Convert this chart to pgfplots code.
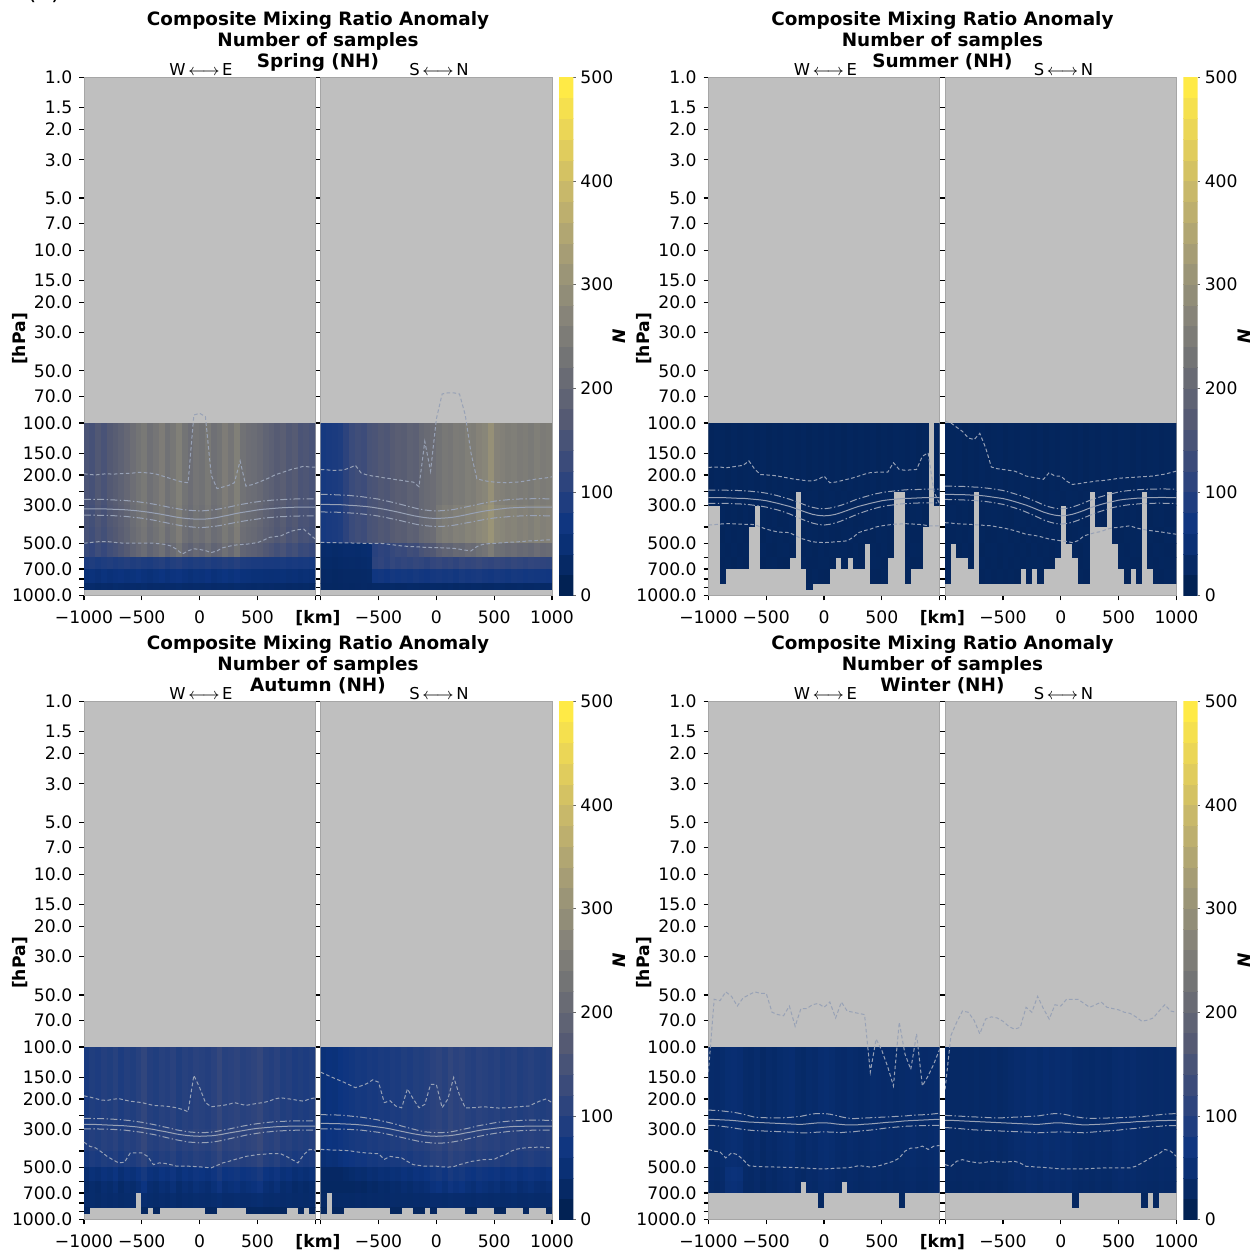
\documentclass[border=0pt]{standalone}
\usepackage{pgfplots}
\pgfplotsset{compat=1.18}
\usepackage{pgfplotstable}
\usepackage{fontspec}
\setmainfont{DejaVu Sans}

% one grid cell: 50 km wide, height given by the mark size
\pgfdeclareplotmark{cell}{%
  \pgfpathrectangle{\pgfpoint{-0.2pt}{0.2pt}}{\pgfpoint{3.29pt}{-\pgfplotmarksize-0.4pt}}%
  \pgfusepathqfill}
% one colour step of the colour bar
\pgfdeclareplotmark{cbcell}{%
  \pgfpathrectangle{\pgfpoint{-3.8pt}{0.15pt}}{\pgfpoint{7.6pt}{-10.67pt}}%
  \pgfusepathqfill}

\definecolor{bgray}{RGB}{191,191,191}
\definecolor{profc}{RGB}{152,162,182}
\newcommand\tickfont{\fontsize{8.6}{10}\selectfont}
\newcommand\titlefont{\bfseries\fontsize{9.2}{10}\selectfont}
\newcommand\subfont{\fontsize{8.2}{10}\selectfont}
\newcommand\labfont{\bfseries\fontsize{8.6}{10}\selectfont}

\pgfplotsset{colormap={civ}{rgb255=(2,34,84) rgb255=(12,52,128) rgb255=(50,70,125)
    rgb255=(85,90,115) rgb255=(112,113,117) rgb255=(138,135,121)
    rgb255=(166,157,117) rgb255=(196,181,108) rgb255=(228,207,91) rgb255=(255,234,70)}}

\pgfplotsset{
  /pgfplots/sect/.style={
    scale only axis, width=115.65pt, height=259.2pt,
    xmin=-1000, xmax=1000, ymin=1, ymax=1000, y dir=reverse,
    axis background/.style={fill=bgray},
    axis line style={draw=black!35, line width=0.3pt},
    tick align=outside, major tick length=2.35pt, minor tick length=2.35pt,
    tick style={black, line width=0.6pt},
    xtick={-1000,-500,0,500,1000},
    ytick={1,1.5,2,3,5,7,10,15,20,30,50,70,100,150,200,300,500,700,1000},
    minor ytick={250,400,600,800,900},
    xtick pos=left, ytick pos=left,
    tick label style={font=\tickfont},
    xticklabel style={yshift=-1.4pt},
    clip marker paths=true, unbounded coords=discard, filter discard warning=false,
    colormap name=civ,
    point meta min=0, point meta max=500,
  },
  /pgfplots/cellrow/.style={scatter, only marks, mark=cell, mark size=#1, point meta=explicit},
  /pgfplots/prof/.style={no marks, line width=0.5pt, color=profc},
  /pgfplots/dashpat/.style={dash pattern=on 1.8pt off 1.2pt},
  /pgfplots/dotdashpat/.style={dash pattern=on 3.5pt off 1.2pt on 0.7pt off 1.2pt},
}

% cell bands (top pressure, band height; empty cells are skipped) and the five profile lines
\newcommand\fields[1]{%
  \addplot[cellrow=34.38pt] table[x=x,y expr=\thisrow{A}*0+100,meta=A]{#1};
  \addplot[cellrow=6.84pt]  table[x=x,y expr=\thisrow{B}*0+250,meta=B]{#1};
  \addplot[cellrow=10.80pt] table[x=x,y expr=\thisrow{C}*0+300,meta=C]{#1};
  \addplot[cellrow=8.37pt]  table[x=x,y expr=\thisrow{D}*0+400,meta=D]{#1};
  \addplot[cellrow=6.84pt]  table[x=x,y expr=\thisrow{E}*0+500,meta=E]{#1};
  \addplot[cellrow=5.78pt]  table[x=x,y expr=\thisrow{F}*0+600,meta=F]{#1};
  \addplot[cellrow=7.29pt]  table[x=x,y expr=\thisrow{G}*0+700,meta=G]{#1};
  \addplot[cellrow=3.17pt]  table[x=x,y expr=\thisrow{H}*0+850,meta=H]{#1};
  \addplot[prof,dashpat]    table[x=x,y=u]{#1};
  \addplot[prof,dotdashpat] table[x=x,y=a]{#1};
  \addplot[prof]            table[x=x,y=s]{#1};
  \addplot[prof,dotdashpat] table[x=x,y=b]{#1};
  \addplot[prof,dashpat]    table[x=x,y=l]{#1};
}

% colour bar steps: top of each step and its value
\pgfplotstableread{
x y m
0.5 20 0
0.5 40 21
0.5 60 42
0.5 80 62
0.5 100 83
0.5 120 104
0.5 140 125
0.5 160 146
0.5 180 167
0.5 200 188
0.5 220 208
0.5 240 229
0.5 260 250
0.5 280 271
0.5 300 292
0.5 320 312
0.5 340 333
0.5 360 354
0.5 380 375
0.5 400 396
0.5 420 417
0.5 440 438
0.5 460 458
0.5 480 479
0.5 500 500
}\CB

\pgfplotstableread{
x A B C D E F G H u a s b l
-1000 151 151 147 143 121 78 46 27 197 277 314 342 497
-950 143 143 138 134 112 84 49 29 199 277 314 342 493
-900 160 160 156 151 130 76 44 25 200 277 314 342 488
-850 147 147 143 138 117 82 52 28 198 277 314 343 486
-800 164 164 160 156 134 86 47 26 197 278 315 343 486
-750 173 173 168 164 143 80 50 30 198 279 316 344 490
-700 186 186 181 177 156 85 53 28 197 280 317 346 494
-650 199 199 194 190 168 90 48 26 196 281 318 347 497
-600 216 216 212 207 186 84 51 29 196 283 320 350 497
-550 229 229 225 220 199 88 55 27 194 285 322 353 496
-500 242 242 238 233 212 82 49 30 193 288 325 356 497
-450 220 220 216 212 190 79 46 26 195 291 328 361 497
-400 233 233 229 225 203 86 51 28 196 295 332 365 497
-350 251 251 246 242 220 92 56 27 200 299 336 371 500
-300 225 225 220 216 194 80 48 29 205 304 341 377 505
-250 238 238 233 229 207 88 53 28 210 309 346 383 515
-200 259 259 255 251 229 94 57 30 215 313 351 389 538
-150 229 229 225 220 199 83 50 27 220 317 355 394 574
-100 216 216 212 207 186 79 46 26 222 320 358 398 550
-50 233 233 229 225 203 85 51 28 90 322 360 401 535
0 225 225 220 216 194 82 49 27 88 323 361 404 540
50 242 242 238 233 212 88 54 29 92 322 360 402 548
100 220 220 216 212 190 80 47 26 200 319 357 399 563
150 229 229 225 220 199 84 51 28 240 316 353 395 550
200 251 251 246 242 220 91 56 29 235 312 347 390 528
250 233 233 229 225 203 85 51 27 230 307 342 384 518
300 259 259 255 251 229 93 57 30 222 302 336 378 510
350 225 225 220 216 194 82 49 28 166 297 331 373 506
400 216 216 212 207 186 80 48 26 232 293 327 368 504
450 212 212 207 203 181 78 46 25 228 289 323 364 498
500 203 203 199 194 173 77 45 27 222 286 319 360 493
550 190 190 186 181 160 75 44 25 215 283 316 356 478
600 181 181 177 173 151 74 43 26 208 281 314 353 460
650 168 168 164 160 138 73 44 24 200 279 312 351 455
700 177 177 173 168 147 76 45 25 195 278 310 349 451
750 160 160 156 151 130 72 42 23 190 277 309 348 435
800 168 168 164 160 138 75 44 24 185 276 308 346 422
850 151 151 147 143 121 71 41 23 182 275 307 346 415
900 156 156 151 147 125 73 43 24 178 275 307 345 412
950 147 147 143 138 117 70 40 22 180 275 307 345 441
1000 nan nan nan nan nan nan nan nan 180 275 307 345 470
}\SpL

\pgfplotstableread{
x A B C D E F G H u a s b l
-1000 70 70 70 70 28 24 20 18 186 259 296 327 492
-950 74 74 74 74 30 25 21 19 187 259 296 328 492
-900 78 78 78 78 27 23 19 18 188 260 297 328 493
-850 82 82 82 82 29 25 20 19 188 261 297 329 494
-800 102 102 102 102 31 26 22 20 187 262 298 330 494
-750 124 124 124 124 32 27 21 19 182 263 300 332 495
-700 133 133 133 133 30 26 22 20 176 265 301 333 496
-650 129 129 129 129 33 28 23 21 195 267 303 336 497
-600 146 146 146 146 35 30 24 20 200 270 305 339 498
-550 150 150 150 150 97 103 62 22 203 273 308 342 499
-500 160 160 160 160 106 109 66 23 205 276 312 346 497
-450 156 156 156 156 102 100 60 21 208 281 316 351 500
-400 168 168 168 168 116 113 68 24 210 286 321 357 505
-350 177 177 177 177 124 105 64 22 213 291 326 363 510
-300 173 173 173 173 120 111 67 23 215 297 332 369 515
-250 186 186 186 186 133 107 65 25 218 303 338 376 518
-200 181 181 181 181 129 115 70 24 220 309 344 383 520
-150 200 200 200 200 146 110 66 23 234 315 349 389 522
-100 208 208 208 208 156 103 63 22 128 319 353 393 525
-50 213 213 213 213 160 112 69 25 190 322 356 396 526
0 226 226 239 239 181 117 72 24 95 323 357 398 527
50 239 239 253 253 194 109 67 23 68 322 356 397 528
100 234 234 248 248 190 114 70 25 67 320 354 395 530
150 248 248 261 261 204 106 65 22 67 317 351 391 532
200 244 244 257 257 200 118 73 24 68 312 346 386 538
250 257 257 270 270 213 111 68 23 90 307 341 380 545
300 253 253 266 266 208 115 71 25 150 302 335 375 550
350 266 266 279 279 221 120 74 24 210 297 330 369 520
400 274 274 288 288 230 113 69 22 215 292 325 364 505
450 301 301 310 310 253 109 66 23 218 288 321 359 500
500 266 266 279 279 221 116 72 25 220 284 318 355 498
550 261 261 274 274 217 112 69 24 221 281 315 352 495
600 253 253 266 266 208 107 65 22 222 279 312 350 492
650 257 257 270 270 213 114 70 23 221 277 310 347 490
700 248 248 261 261 204 110 68 24 220 276 309 346 488
750 253 253 266 266 208 105 64 22 218 275 308 345 485
800 244 244 257 257 200 111 67 23 215 275 307 344 482
850 257 257 270 270 213 108 66 24 212 274 307 344 480
900 248 248 261 261 204 106 64 22 210 274 307 344 478
950 253 253 266 266 208 104 63 23 208 275 307 345 476
1000 nan nan nan nan nan nan nan nan 205 275 307 345 475
}\SpR

\pgfplotstableread{
x A B C D E F G H u a s b l
-1000 10 11 nan nan nan nan nan nan 181 245 271 292 390
-950 12 10 nan nan nan nan nan nan 180 245 271 292 388
-900 11 10 12 9 11 10 12 nan 180 245 271 292 385
-850 9 11 10 12 10 11 nan nan 182 245 271 292 383
-800 12 10 11 10 12 9 nan nan 180 246 272 293 383
-750 10 12 9 11 10 12 nan nan 178 246 273 294 385
-700 11 9 12 10 11 10 nan nan 176 247 273 295 386
-650 13 11 10 nan nan nan nan nan 166 248 275 297 386
-600 10 12 nan nan nan nan nan nan 185 250 277 300 388
-550 12 10 11 9 12 10 nan nan 199 252 279 303 400
-500 9 11 10 12 10 11 nan nan 200 255 282 307 412
-450 11 10 12 10 9 12 nan nan 201 259 287 313 420
-400 10 12 9 11 11 10 nan nan 203 264 292 319 428
-350 12 11 10 10 12 9 nan nan 206 270 298 327 430
-300 11 9 12 11 10 nan nan nan 209 276 304 336 431
-250 10 nan nan nan nan nan nan nan 212 284 312 347 448
-200 12 10 11 9 10 12 nan nan 214 292 321 359 466
-150 9 11 10 12 11 10 9 11 216 301 330 370 476
-100 11 12 10 11 9 10 12 nan 217 308 338 380 488
-50 10 9 11 10 12 11 10 nan 212 313 343 387 490
0 12 11 9 12 10 11 9 nan 203 314 345 390 493
50 10 12 11 10 11 9 nan nan 222 311 343 386 490
100 11 10 12 9 11 nan nan nan 220 306 338 379 488
150 9 11 10 11 12 10 nan nan 216 299 330 369 485
200 12 10 11 12 10 nan nan nan 212 291 321 357 481
250 10 11 9 10 12 11 nan nan 208 282 312 346 460
300 11 12 10 11 9 10 nan nan 203 274 304 335 431
350 10 9 12 10 nan nan nan nan 198 268 298 326 420
400 12 11 10 9 11 12 10 nan 194 262 292 318 412
450 9 10 11 12 10 11 9 nan 193 257 287 311 400
500 11 12 10 11 12 10 11 nan 193 253 282 305 394
550 10 11 12 10 9 nan nan nan 193 250 279 301 390
600 12 nan nan nan nan nan nan nan 170 248 277 298 386
650 11 nan nan nan nan nan nan nan 186 246 275 295 385
700 10 12 9 11 10 12 11 nan 188 244 273 293 383
750 12 10 11 10 12 9 nan nan 187 243 273 292 384
800 9 11 12 10 11 10 nan nan 186 243 272 291 386
850 11 10 9 nan nan nan nan nan 156 242 271 290 388
900 nan nan nan nan nan nan nan nan 149 242 271 290 394
950 12 11 nan nan nan nan nan nan 250 242 271 290 394
1000 nan nan nan nan nan nan nan nan 295 242 271 290 394
}\SuL

\pgfplotstableread{
x A B C D E F G H u a s b l
-1000 10 12 11 9 11 10 12 nan 98 232 259 277 378
-950 11 10 12 10 nan nan nan nan 100 232 259 278 380
-900 12 11 10 11 9 nan nan nan 106 233 260 278 383
-850 9 12 11 10 12 nan nan nan 112 233 260 279 385
-800 11 10 9 12 10 11 nan nan 122 234 261 280 386
-750 10 nan nan nan nan nan nan nan 125 235 262 281 388
-700 12 11 10 11 9 12 10 nan 115 236 263 283 390
-650 10 12 11 9 11 10 12 nan 139 238 265 285 392
-600 11 9 12 10 12 11 10 nan 180 240 268 288 394
-550 12 10 11 11 10 9 11 nan 184 243 271 292 400
-500 9 11 10 12 11 12 10 nan 186 246 274 296 405
-450 11 12 9 10 12 10 11 nan 188 251 279 303 412
-400 10 11 12 11 10 11 9 nan 190 257 285 310 420
-350 12 10 11 9 11 10 nan nan 196 263 292 318 430
-300 11 12 10 12 9 11 10 nan 203 270 299 328 441
-250 10 9 11 10 12 11 nan nan 206 279 308 339 446
-200 12 11 10 11 10 12 11 nan 209 288 318 351 451
-150 9 10 12 10 11 10 nan nan 212 298 328 364 460
-100 11 12 10 12 10 9 nan nan 194 306 336 374 470
-50 10 11 9 11 12 nan nan nan 203 312 342 382 475
0 12 10 nan nan nan nan nan nan 203 314 345 385 481
50 11 12 10 9 nan nan nan nan 217 312 343 382 485
100 10 11 12 10 11 nan nan nan 227 307 338 376 493
150 12 10 11 12 9 10 11 nan 225 299 330 366 480
200 9 11 10 11 12 11 10 nan 222 290 321 354 451
250 11 nan nan nan nan nan nan nan 220 281 311 343 440
300 10 12 11 nan nan nan nan nan 217 273 303 332 431
350 12 10 9 nan nan nan nan nan 216 267 296 324 425
400 11 nan nan nan nan nan nan nan 214 261 290 316 412
450 10 11 12 10 nan nan nan nan 212 256 285 309 405
500 12 10 11 9 11 12 nan nan 209 251 280 304 402
550 11 12 10 11 10 11 9 nan 208 248 277 300 398
600 9 10 12 11 12 10 nan nan 207 246 275 297 394
650 12 11 10 12 11 9 10 nan 206 244 273 295 405
700 10 nan nan nan nan nan nan nan 205 243 272 293 412
750 11 12 9 11 10 11 nan nan 204 242 271 293 418
800 12 10 11 10 12 10 11 nan 203 242 271 292 422
850 10 11 12 9 11 12 10 nan 200 241 270 291 426
900 11 9 10 12 10 11 12 nan 198 241 270 292 431
950 12 11 10 11 9 10 11 nan 194 242 271 292 436
1000 nan nan nan nan nan nan nan nan 190 242 271 292 441
}\SuR

\pgfplotstableread{
x A B C D E F G H u a s b l
-1000 75 75 80 70 35 22 28 16 192 259 281 298 356
-950 85 85 90 80 45 30 30 nan 195 259 281 298 376
-900 80 80 85 75 40 25 27 nan 199 260 281 298 384
-850 90 90 95 85 50 35 31 nan 203 260 282 299 405
-800 85 85 90 80 45 30 29 nan 204 261 283 299 430
-750 95 95 100 90 55 40 32 nan 201 262 284 300 450
-700 80 80 85 75 40 25 28 nan 199 263 285 302 469
-650 90 90 95 85 50 35 30 nan 203 265 286 303 465
-600 85 85 90 80 45 30 29 nan 206 267 288 306 411
-550 95 95 100 90 55 40 nan nan 208 270 290 309 411
-500 110 110 115 105 70 55 34 17 210 273 293 312 411
-450 90 90 95 85 50 35 30 nan 214 277 297 317 430
-400 85 85 90 80 45 30 28 15 218 281 300 321 480
-350 95 95 100 90 55 40 31 nan 219 286 305 327 469
-300 90 90 95 85 50 35 29 nan 220 291 309 333 472
-250 100 100 105 95 60 45 33 nan 222 296 314 339 480
-200 85 85 90 80 45 30 28 nan 225 302 319 345 490
-150 95 95 100 90 55 40 31 nan 230 306 323 350 490
-100 90 90 95 85 50 35 30 nan 237 310 326 355 490
-50 100 100 105 95 60 45 33 nan 146 312 328 357 492
0 95 95 100 90 55 40 31 nan 172 314 329 359 494
50 90 90 95 85 50 35 30 16 210 313 328 358 498
100 100 100 105 95 60 45 33 17 222 311 327 356 501
150 115 115 120 110 75 60 36 nan 220 308 324 352 485
200 95 95 100 90 55 40 31 nan 218 303 320 347 469
250 100 100 105 95 60 45 32 nan 215 299 315 341 460
300 105 105 110 100 65 50 34 nan 210 294 311 335 449
350 95 95 100 90 55 40 31 nan 214 289 307 330 440
400 100 100 105 95 60 45 32 16 218 285 303 324 430
450 105 105 110 100 65 50 34 17 215 281 299 320 425
500 115 115 120 110 75 60 36 18 212 278 296 316 420
550 95 95 100 90 55 40 31 16 210 275 294 312 418
600 90 90 95 85 50 35 30 15 206 273 292 310 415
650 100 100 105 95 60 45 32 17 200 271 290 307 415
700 85 85 90 80 45 30 29 15 197 270 289 306 415
750 90 90 95 85 50 35 30 nan 199 269 288 305 430
800 80 80 85 75 40 25 28 nan 201 268 287 304 449
850 85 85 90 80 45 30 29 16 204 268 287 303 469
900 80 80 85 75 40 25 27 nan 206 268 287 303 420
950 85 85 90 80 45 30 29 15 200 268 287 303 392
1000 nan nan nan nan nan nan nan nan 197 268 287 303 396
}\AuL

\pgfplotstableread{
x A B C D E F G H u a s b l
-1000 45 45 50 40 20 18 22 14 140 246 277 298 392
-950 50 50 55 45 20 18 nan nan 145 247 277 298 393
-900 48 48 53 43 20 18 23 14 150 247 278 298 395
-850 55 55 60 50 20 18 24 15 155 248 278 299 396
-800 60 60 65 55 25 18 25 nan 160 249 279 299 397
-750 65 65 70 60 30 18 24 nan 166 251 280 300 399
-700 70 70 75 65 35 20 26 nan 172 253 281 302 404
-650 68 68 73 63 33 18 25 nan 168 255 283 303 408
-600 75 75 80 70 40 25 27 nan 163 258 285 306 411
-550 72 72 77 67 37 22 26 nan 155 261 288 309 413
-500 78 78 83 73 43 28 27 nan 160 265 291 312 415
-450 75 75 80 70 40 25 26 nan 210 270 294 317 447
-400 80 80 85 75 45 30 28 15 205 275 298 322 430
-350 78 78 83 73 43 28 27 14 220 280 303 328 435
-300 85 85 90 80 50 35 28 nan 225 287 308 334 439
-250 80 80 85 75 45 30 27 nan 175 293 313 340 460
-200 88 88 93 83 53 38 29 15 200 299 318 346 480
-150 85 85 90 80 50 35 28 14 225 305 322 352 485
-100 90 90 95 85 55 40 29 nan 215 310 326 356 490
-50 100 100 105 95 65 50 31 16 165 312 328 359 490
0 105 105 110 100 70 55 32 nan 165 314 329 361 490
50 95 95 100 90 60 45 30 nan 225 313 328 360 494
100 110 110 115 105 75 60 33 nan 200 312 327 358 496
150 100 100 105 95 65 50 31 nan 150 308 324 354 493
200 105 105 110 100 70 55 32 nan 190 303 320 349 480
250 95 95 100 90 60 45 30 15 225 298 315 343 470
300 90 90 95 85 55 40 29 14 225 293 311 337 460
350 100 100 105 95 65 50 31 nan 224 287 306 331 455
400 95 95 100 90 60 45 30 nan 222 283 302 326 449
450 90 90 95 85 55 40 29 nan 223 279 299 321 448
500 95 95 100 90 60 45 30 15 225 275 296 317 447
550 85 85 90 80 50 35 28 14 226 272 293 313 430
600 90 90 95 85 55 40 29 nan 225 270 291 310 420
650 95 95 100 90 60 45 30 nan 224 268 289 307 400
700 85 85 90 80 50 35 28 nan 222 267 288 306 390
750 90 90 95 85 55 40 29 15 221 266 288 305 385
800 95 95 100 90 60 45 30 nan 220 265 287 304 382
850 88 88 93 83 53 38 29 nan 212 265 287 303 381
900 85 85 90 80 50 35 28 nan 205 265 287 303 380
950 90 90 95 85 55 40 29 15 200 266 287 303 382
1000 nan nan nan nan nan nan nan nan 210 266 287 303 384
}\AuR

\pgfplotstableread{
x A B C D E F G H u a s b l
-1000 28 28 29 28 26 24 nan nan 140 232 263 284 392
-950 26 26 27 26 24 22 nan nan 53 233 263 285 401
-900 30 30 31 30 28 26 nan nan 54 234 264 287 405
-850 36 36 37 36 46 42 nan nan 48 236 265 290 439
-800 38 38 39 38 48 44 nan nan 51 238 266 293 410
-750 35 35 36 35 45 41 nan nan 58 241 268 297 420
-700 27 27 28 27 25 23 nan nan 52 245 270 300 449
-650 25 25 26 25 23 21 nan nan 50 250 272 303 487
-600 30 30 31 30 28 26 nan nan 48 255 273 305 491
-550 22 22 23 22 20 18 nan nan 49 256 274 306 493
-500 28 28 29 28 26 24 nan nan 49 257 275 307 494
-450 25 25 26 25 23 21 nan nan 63 257 276 308 495
-400 30 30 31 30 28 26 nan nan 65 257 277 309 496
-350 33 33 34 33 31 29 nan nan 66 257 278 310 497
-300 35 35 36 35 33 31 nan nan 58 256 279 311 498
-250 27 27 28 27 25 23 nan nan 76 254 280 312 499
-200 24 24 25 24 22 nan nan nan 60 252 281 314 501
-150 30 30 31 30 28 26 nan nan 60 248 279 314 503
-100 28 28 29 28 26 24 nan nan 57 244 277 313 505
-50 34 34 35 34 32 30 18 nan 56 243 275 311 507
0 36 36 37 36 34 32 nan nan 59 243 275 310 508
50 33 33 34 33 31 29 nan nan 55 245 276 311 506
100 28 28 29 28 26 24 nan nan 68 249 279 312 504
150 26 26 27 26 24 nan nan nan 55 254 281 313 502
200 30 30 31 30 28 26 nan nan 62 258 283 311 501
250 28 28 29 28 26 24 nan nan 63 260 283 310 495
300 25 25 26 25 23 21 nan nan 64 259 282 307 487
350 27 27 28 27 25 23 nan nan 65 258 280 305 490
400 30 30 31 30 28 26 nan nan 140 257 279 303 496
450 29 29 30 29 27 25 nan nan 90 256 277 300 492
500 26 26 27 26 24 22 nan nan 105 255 275 297 482
550 28 28 29 28 26 24 nan nan 130 254 273 294 470
600 25 25 26 25 23 21 nan nan 168 253 272 292 459
650 27 27 28 27 25 23 18 nan 72 252 270 290 440
700 29 29 30 29 27 25 nan nan 110 251 268 288 401
750 30 30 31 30 28 26 nan nan 135 249 267 287 385
800 27 27 28 27 25 23 nan nan 84 248 266 286 384
850 26 26 27 26 24 22 nan nan 168 247 265 285 375
900 28 28 29 28 26 24 nan nan 147 246 264 285 392
950 30 30 31 30 28 26 nan nan 125 244 263 284 375
1000 nan nan nan nan nan nan nan nan 103 242 263 284 372
}\WiL

\pgfplotstableread{
x A B C D E F G H u a s b l
-1000 20 20 21 20 19 17 nan nan 176 249 266 293 480
-950 22 22 23 22 21 19 nan nan 86 250 266 294 491
-900 21 21 22 21 20 18 nan nan 72 251 267 296 459
-850 23 23 24 23 22 20 nan nan 62 252 268 298 449
-800 22 22 23 22 21 19 nan nan 63 253 269 300 459
-750 24 24 25 24 23 21 nan nan 70 254 270 302 465
-700 22 22 23 22 21 19 nan nan 84 255 271 303 470
-650 23 23 24 23 22 20 nan nan 69 256 272 304 465
-600 25 25 26 25 24 22 nan nan 67 257 273 305 459
-550 22 22 23 22 21 19 nan nan 68 257 274 306 462
-500 24 24 25 24 23 21 nan nan 71 257 275 307 465
-450 28 28 29 28 27 25 nan nan 76 256 276 308 462
-400 32 32 33 32 31 29 nan nan 79 255 277 309 459
-350 30 30 31 30 29 27 nan nan 77 254 278 310 470
-300 34 34 35 34 33 31 nan nan 59 253 279 311 491
-250 33 33 34 33 32 30 nan nan 63 252 280 312 493
-200 30 30 31 30 29 27 nan nan 51 251 281 314 496
-150 35 35 36 35 34 32 nan nan 60 248 279 313 498
-100 32 32 33 32 31 29 nan nan 69 245 277 312 501
-50 34 34 35 34 33 31 nan nan 57 243 275 311 505
0 31 31 32 31 30 28 nan nan 58 244 275 310 508
50 33 33 34 33 32 30 nan nan 53 247 277 311 508
100 28 28 29 28 27 25 16 nan 53 251 279 312 508
150 26 26 27 26 25 23 nan nan 53 255 281 313 508
200 27 27 28 27 26 24 nan nan 56 258 283 314 508
250 25 25 26 25 24 22 nan nan 59 259 282 312 506
300 28 28 29 28 27 25 nan nan 57 259 281 310 504
350 26 26 27 26 25 23 nan nan 55 258 280 308 502
400 25 25 26 25 24 22 nan nan 59 258 279 306 501
450 30 30 31 30 29 27 nan nan 60 257 277 305 501
500 32 32 33 32 31 29 nan nan 61 257 275 303 501
550 29 29 30 29 28 26 nan nan 63 256 274 300 501
600 31 31 32 31 30 28 nan nan 64 255 273 298 501
650 28 28 29 28 27 25 nan nan 67 254 271 296 490
700 27 27 28 27 26 24 16 nan 71 253 270 293 470
750 26 26 27 26 25 23 nan nan 70 251 269 291 450
800 25 25 26 25 24 22 16 nan 68 249 268 289 430
850 27 27 28 27 26 24 nan nan 62 247 267 288 415
900 26 26 27 26 25 23 nan nan 57 245 267 286 392
950 25 25 26 25 24 22 nan nan 62 244 266 285 401
1000 nan nan nan nan nan nan nan nan 63 243 266 285 430
}\WiR

% #1,#2: panel offset (right, down); #3: season; #4,#5: W-E and S-N tables
\newcommand\drawpanel[5]{%
  \begin{semilogyaxis}[sect, at={({42pt+#1},{-297.85pt-#2})}, anchor=south west,
    yticklabels={1.0,1.5,2.0,3.0,5.0,7.0,10.0,15.0,20.0,30.0,50.0,70.0,100.0,150.0,200.0,300.0,500.0,700.0,1000.0},
    xticklabels={−1000,−500,0,500,{}}]
    \fields{#4}
  \end{semilogyaxis}
  \begin{semilogyaxis}[sect, at={({160.35pt+#1},{-297.85pt-#2})}, anchor=south west,
    yticklabels={{},{},{},{},{},{},{},{},{},{},{},{},{},{},{},{},{},{},{}},
    xticklabels={{},−500,0,500,1000}]
    \fields{#5}
  \end{semilogyaxis}
  \begin{axis}[scale only axis, width=7.15pt, height=259.2pt,
    at={({279.5pt+#1},{-297.85pt-#2})}, anchor=south west,
    xmin=0, xmax=1, ymin=0, ymax=500, xtick=\empty,
    ytick={0,100,200,300,400,500}, yticklabels={0,100,200,300,400,500},
    ytick pos=right, tick align=outside, major tick length=1.2pt,
    tick style={black!60, line width=0.4pt},
    yticklabel style={font=\tickfont, xshift=-1.2pt},
    axis line style={draw=none}, clip marker paths=true,
    colormap name=civ, point meta min=0, point meta max=500]
    \addplot[scatter, only marks, mark=cbcell, point meta=explicit] table[x=x,y=y,meta=m]{\CB};
  \end{axis}
  \node[anchor=base, font=\titlefont] at ({159pt+#1},{-12.5pt-#2}) {Composite Mixing Ratio Anomaly};
  \node[anchor=base, font=\titlefont] at ({159pt+#1},{-23.15pt-#2}) {Number of samples};
  \node[anchor=base, font=\titlefont] at ({159pt+#1},{-33.8pt-#2}) {#3 (NH)};
  \node[anchor=base, font=\subfont] at ({100.5pt+#1},{-37.5pt-#2}) {W\,$\longleftrightarrow$\,E};
  \node[anchor=base, font=\subfont] at ({219.5pt+#1},{-37.5pt-#2}) {S\,$\longleftrightarrow$\,N};
  \node[rotate=90, font=\labfont] at ({10pt+#1},{-169.5pt-#2}) {[hPa]};
  \node[anchor=base, font=\labfont] at ({159pt+#1},{-311.6pt-#2}) {[km]};
  \node[rotate=90, font=\labfont] at ({309.8pt+#1},{-168.3pt-#2}) {\textit{N}};
}

\begin{document}
\begin{tikzpicture}
  \useasboundingbox (0,0) rectangle (629pt,-626.5pt);
  \node[anchor=base, font=\fontsize{12}{14}\selectfont] at (21.9pt,0.3pt) {(a)};
  \drawpanel{0pt}{0pt}{Spring}{\SpL}{\SpR}
  \drawpanel{312.2pt}{0pt}{Summer}{\SuL}{\SuR}
  \drawpanel{0pt}{312pt}{Autumn}{\AuL}{\AuR}
  \drawpanel{312.2pt}{312pt}{Winter}{\WiL}{\WiR}
\end{tikzpicture}
\end{document}
